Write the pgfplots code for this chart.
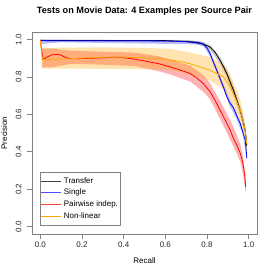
\documentclass[border=0pt]{standalone}
\usepackage{pgfplots}
\pgfplotsset{compat=1.18}
\usepackage{fontspec}
\setmainfont{Liberation Sans}
\definecolor{rorange}{RGB}{255,165,0}
\definecolor{rred}{RGB}{255,0,0}
\definecolor{rblue}{RGB}{0,0,255}
\definecolor{boxgray}{RGB}{130,130,130}
\begin{document}
\begin{tikzpicture}
\path[use as bounding box] (-32bp,-40bp) rectangle (242bp,234bp);
\begin{axis}[
  at={(0,0)}, anchor=south west,
  scale only axis, width=225bp, height=202bp,
  xmin=-0.04, xmax=1.04, ymin=-0.04, ymax=1.04,
  xtick={0,0.2,0.4,0.6,0.8,1.0}, ytick={0,0.2,0.4,0.6,0.8,1.0},
  xticklabels={0.0,0.2,0.4,0.6,0.8,1.0}, yticklabels={0.0,0.2,0.4,0.6,0.8,1.0},
  tick align=outside, xtick pos=left, ytick pos=left,
  major tick length=4.5bp,
  axis line style={boxgray, line width=0.6bp},
  every tick/.style={boxgray, line width=0.6bp},
  tick label style={font=\fontsize{8}{9.6}\selectfont, text=black!85},
  yticklabel style={rotate=90, anchor=base},
  yticklabel shift=6bp,
  /pgf/number format/assume math mode=true,
  title={Tests on Movie Data: 4 Examples per Source Pair},
  title style={at={(0.5,1)}, anchor=base, yshift=12.7bp, font=\fontsize{9.2}{11}\selectfont\bfseries},
  xlabel={Recall},
  every axis x label/.style={at={(axis description cs:0.5,0)}, anchor=base, yshift=-29bp, font=\fontsize{8}{9.6}\selectfont},
  ylabel={Precision},
  every axis y label/.style={at={(axis description cs:0,0.5)}, xshift=-25bp, rotate=90, anchor=base, font=\fontsize{8}{9.6}\selectfont},
  legend style={at={(axis cs:0,0.005)}, anchor=south west, draw=boxgray, line width=0.6bp,
    font=\fontsize{8}{9.6}\selectfont, inner xsep=0bp, inner ysep=3.5bp, row sep=0.4bp,
    nodes={inner xsep=2.5bp}},
  legend cell align=left,
  legend image code/.code={\draw[#1] (0bp,0bp) -- (16bp,0bp); \path (0bp,0bp) -- (20bp,0bp);},
]
% bands
\addplot[draw=none, fill=black, fill opacity=0.2, forget plot] coordinates {
(0,1.0) (0.7,0.997) (0.767,0.99) (0.815,0.972) (0.863,0.905) (0.895,0.84) (0.927,0.75) (0.959,0.645) (0.983,0.545) (0.991,0.45)
(0.991,0.41) (0.983,0.49) (0.959,0.595) (0.927,0.705) (0.895,0.795) (0.863,0.868) (0.815,0.945) (0.767,0.972) (0.7,0.985) (0,0.99)} -- cycle;
\addplot[draw=none, fill=rblue, fill opacity=0.25, forget plot] coordinates {
(0,1.0) (0.75,0.992) (0.783,0.985) (0.815,0.94) (0.847,0.85) (0.879,0.762) (0.91,0.678) (0.943,0.607) (0.972,0.522) (0.991,0.38)
(0.991,0.352) (0.972,0.488) (0.943,0.573) (0.91,0.642) (0.879,0.73) (0.847,0.82) (0.815,0.908) (0.783,0.965) (0.75,0.974) (0.1,0.985) (0.03,0.978) (0.005,0.975)} -- cycle;
\addplot[draw=none, fill=rred, fill opacity=0.3, forget plot] coordinates {
(0.01,0.95) (0.06,0.952) (0.1,0.945) (0.15,0.94) (0.3,0.935) (0.45,0.93) (0.57,0.91) (0.624,0.893) (0.719,0.86) (0.783,0.81) (0.815,0.765) (0.863,0.67) (0.911,0.57) (0.943,0.49) (0.96,0.44) (0.975,0.36) (0.986,0.25)
(0.986,0.18) (0.975,0.27) (0.96,0.345) (0.943,0.39) (0.911,0.465) (0.863,0.575) (0.815,0.68) (0.783,0.72) (0.719,0.775) (0.624,0.813) (0.57,0.83) (0.45,0.858) (0.3,0.865) (0.15,0.87) (0.1,0.86) (0.06,0.852) (0.01,0.85)} -- cycle;
\addplot[draw=none, fill=rorange, fill opacity=0.3, forget plot] coordinates {
(0.005,0.955) (0.3,0.958) (0.5,0.955) (0.624,0.95) (0.719,0.93) (0.815,0.906) (0.879,0.865) (0.911,0.815) (0.935,0.75) (0.959,0.68) (0.975,0.6) (0.991,0.47)
(0.991,0.40) (0.975,0.50) (0.959,0.56) (0.935,0.62) (0.911,0.675) (0.879,0.735) (0.815,0.78) (0.719,0.815) (0.624,0.838) (0.5,0.842) (0.3,0.843) (0.005,0.845)} -- cycle;
% lines
\addplot[black, line width=0.8bp, forget plot] coordinates {
(0,0.995) (0.1,0.995) (0.3,0.995) (0.5,0.995) (0.6,0.994) (0.7,0.99) (0.74,0.986) (0.767,0.981) (0.79,0.972) (0.815,0.959) (0.84,0.93) (0.863,0.888) (0.88,0.852) (0.895,0.818) (0.91,0.775) (0.927,0.729) (0.943,0.676) (0.959,0.622) (0.972,0.57) (0.983,0.516) (0.988,0.47) (0.991,0.43)};
\addplot[rblue, line width=0.8bp, forget plot] coordinates {
(0,0.995) (0.05,0.993) (0.3,0.993) (0.5,0.993) (0.6,0.992) (0.7,0.988) (0.75,0.982) (0.783,0.975) (0.8,0.955) (0.815,0.924) (0.83,0.88) (0.847,0.835) (0.863,0.79) (0.879,0.746) (0.895,0.695) (0.91,0.66) (0.927,0.635) (0.943,0.59) (0.959,0.552) (0.972,0.505) (0.983,0.463) (0.988,0.41) (0.991,0.366)};
\addplot[rred, line width=0.8bp, forget plot] coordinates {
(0,0.995) (0.013,0.892) (0.03,0.905) (0.056,0.918) (0.08,0.92) (0.095,0.918) (0.12,0.905) (0.143,0.897) (0.2,0.898) (0.3,0.902) (0.35,0.905) (0.4,0.903) (0.45,0.895) (0.5,0.885) (0.571,0.87) (0.624,0.853) (0.67,0.837) (0.719,0.818) (0.75,0.795) (0.783,0.764) (0.815,0.72) (0.838,0.676) (0.863,0.622) (0.887,0.57) (0.911,0.516) (0.927,0.47) (0.943,0.436) (0.96,0.39) (0.97,0.35) (0.978,0.30) (0.983,0.25) (0.986,0.21)};
\addplot[rorange, line width=0.8bp, forget plot] coordinates {
(0,0.995) (0.01,0.893) (0.1,0.895) (0.2,0.9) (0.3,0.905) (0.4,0.905) (0.5,0.902) (0.6,0.895) (0.67,0.883) (0.719,0.87) (0.815,0.835) (0.879,0.8) (0.911,0.746) (0.935,0.69) (0.959,0.622) (0.975,0.56) (0.983,0.516) (0.991,0.44)};
% legend
\addlegendimage{black!75, line width=0.8bp}
\addlegendentry{Transfer}
\addlegendimage{color={rgb,255:red,80;green,80;blue,255}, line width=0.8bp}
\addlegendentry{Single}
\addlegendimage{color={rgb,255:red,255;green,60;blue,60}, line width=0.8bp}
\addlegendentry{Pairwise indep.}
\addlegendimage{rorange, line width=0.8bp}
\addlegendentry{Non-linear}
\end{axis}
\end{tikzpicture}
\end{document}
